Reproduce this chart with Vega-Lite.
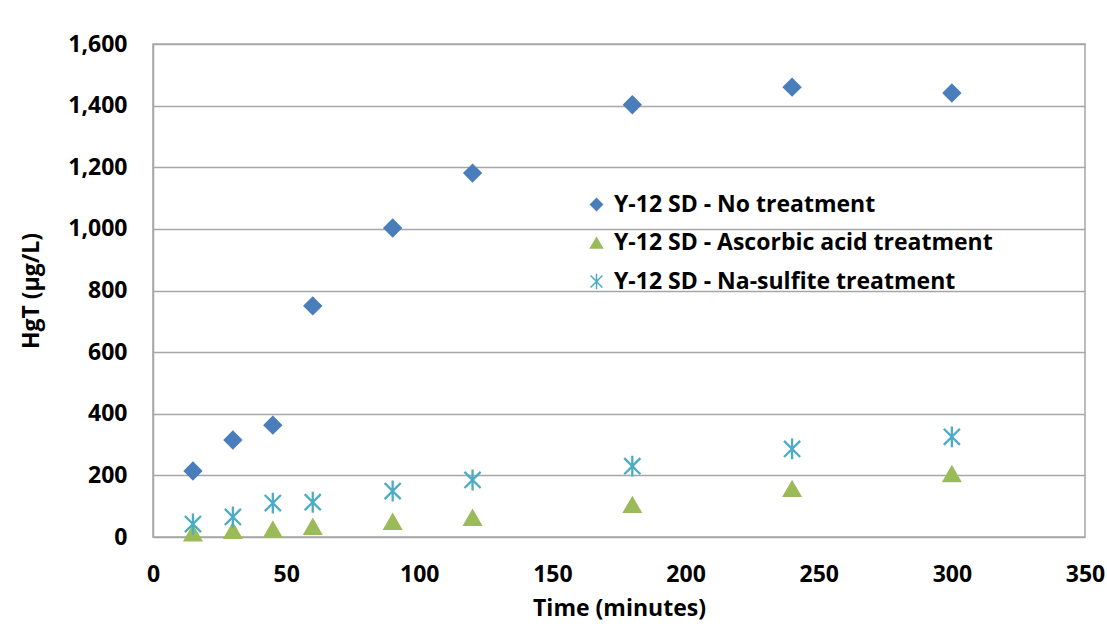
{
  "$schema": "https://vega.github.io/schema/vega-lite/v6.json",
  "width": 932,
  "height": 493,
  "autosize": {"type": "none"},
  "padding": {"left": 153, "top": 44, "right": 22, "bottom": 99},
  "background": "white",
  "config": {
    "font": "Open Sans",
    "view": {"stroke": "#a6a6a6", "strokeWidth": 1.5},
    "axis": {"labelFont": "Open Sans", "titleFont": "Open Sans", "labelFontWeight": "bold", "titleFontWeight": "bold", "labelColor": "#000", "titleColor": "#000"}
  },
  "data": {
    "values": [
      {"time": 15, "hgt": 214, "series": "Y-12 SD - No treatment"},
      {"time": 30, "hgt": 315, "series": "Y-12 SD - No treatment"},
      {"time": 45, "hgt": 363, "series": "Y-12 SD - No treatment"},
      {"time": 60, "hgt": 750, "series": "Y-12 SD - No treatment"},
      {"time": 90, "hgt": 1003, "series": "Y-12 SD - No treatment"},
      {"time": 120, "hgt": 1181, "series": "Y-12 SD - No treatment"},
      {"time": 180, "hgt": 1403, "series": "Y-12 SD - No treatment"},
      {"time": 240, "hgt": 1460, "series": "Y-12 SD - No treatment"},
      {"time": 300, "hgt": 1441, "series": "Y-12 SD - No treatment"},
      {"time": 15, "hgt": 12, "series": "Y-12 SD - Ascorbic acid treatment"},
      {"time": 30, "hgt": 20, "series": "Y-12 SD - Ascorbic acid treatment"},
      {"time": 45, "hgt": 24, "series": "Y-12 SD - Ascorbic acid treatment"},
      {"time": 60, "hgt": 33, "series": "Y-12 SD - Ascorbic acid treatment"},
      {"time": 90, "hgt": 49, "series": "Y-12 SD - Ascorbic acid treatment"},
      {"time": 120, "hgt": 62, "series": "Y-12 SD - Ascorbic acid treatment"},
      {"time": 180, "hgt": 104, "series": "Y-12 SD - Ascorbic acid treatment"},
      {"time": 240, "hgt": 156, "series": "Y-12 SD - Ascorbic acid treatment"},
      {"time": 300, "hgt": 204, "series": "Y-12 SD - Ascorbic acid treatment"},
      {"time": 15, "hgt": 42, "series": "Y-12 SD - Na-sulfite treatment"},
      {"time": 30, "hgt": 65, "series": "Y-12 SD - Na-sulfite treatment"},
      {"time": 45, "hgt": 110, "series": "Y-12 SD - Na-sulfite treatment"},
      {"time": 60, "hgt": 113, "series": "Y-12 SD - Na-sulfite treatment"},
      {"time": 90, "hgt": 149, "series": "Y-12 SD - Na-sulfite treatment"},
      {"time": 120, "hgt": 185, "series": "Y-12 SD - Na-sulfite treatment"},
      {"time": 180, "hgt": 230, "series": "Y-12 SD - Na-sulfite treatment"},
      {"time": 240, "hgt": 286, "series": "Y-12 SD - Na-sulfite treatment"},
      {"time": 300, "hgt": 325, "series": "Y-12 SD - Na-sulfite treatment"}
    ]
  },
  "mark": {"type": "point", "filled": true, "size": 260, "strokeWidth": 2.3, "opacity": 1},
  "encoding": {
    "x": {
      "field": "time", "type": "quantitative",
      "title": "Time (minutes)",
      "scale": {"domain": [0, 350], "nice": false},
      "axis": {"values": [0, 50, 100, 150, 200, 250, 300, 350], "grid": false, "ticks": false, "domain": false, "labelFontSize": 23, "labelPadding": 26, "titleFontSize": 23, "titlePadding": 11, "labelFlush": false}
    },
    "y": {
      "field": "hgt", "type": "quantitative",
      "title": "HgT (µg/L)",
      "scale": {"domain": [0, 1600], "nice": false},
      "axis": {"values": [0, 200, 400, 600, 800, 1000, 1200, 1400, 1600], "format": ",d", "grid": true, "gridColor": "#a6a6a6", "gridWidth": 1.3, "ticks": false, "domainColor": "#a6a6a6", "domainWidth": 1.5, "labelFontSize": 23, "labelPadding": 26, "titleFontSize": 23, "titlePadding": 24, "labelFlush": false}
    },
    "fill": {
      "field": "series", "type": "nominal",
      "sort": ["Y-12 SD - No treatment", "Y-12 SD - Ascorbic acid treatment", "Y-12 SD - Na-sulfite treatment"],
      "scale": {"domain": ["Y-12 SD - No treatment", "Y-12 SD - Ascorbic acid treatment", "Y-12 SD - Na-sulfite treatment"], "range": ["#4A7EBB", "#9BBB59", "#4BACC6"]},
      "legend": {
        "orient": "none", "legendX": 432, "legendY": 149, "title": null,
        "labelFont": "Open Sans", "labelFontSize": 23, "labelFontWeight": "bold", "labelColor": "#000", "labelLimit": 600,
        "symbolSize": 140, "rowPadding": 14.5, "labelOffset": 6, "symbolStrokeWidth": 1.5
      }
    },
    "stroke": {
      "field": "series", "type": "nominal",
      "scale": {"domain": ["Y-12 SD - No treatment", "Y-12 SD - Ascorbic acid treatment", "Y-12 SD - Na-sulfite treatment"], "range": ["#4A7EBB", "#9BBB59", "#4BACC6"]}
    },
    "shape": {
      "field": "series", "type": "nominal",
      "scale": {"domain": ["Y-12 SD - No treatment", "Y-12 SD - Ascorbic acid treatment", "Y-12 SD - Na-sulfite treatment"], "range": ["diamond", "triangle-up", "M0,-1.3L0,1.3M-1,-1L1,1M-1,1L1,-1"]}
    }
  }
}
